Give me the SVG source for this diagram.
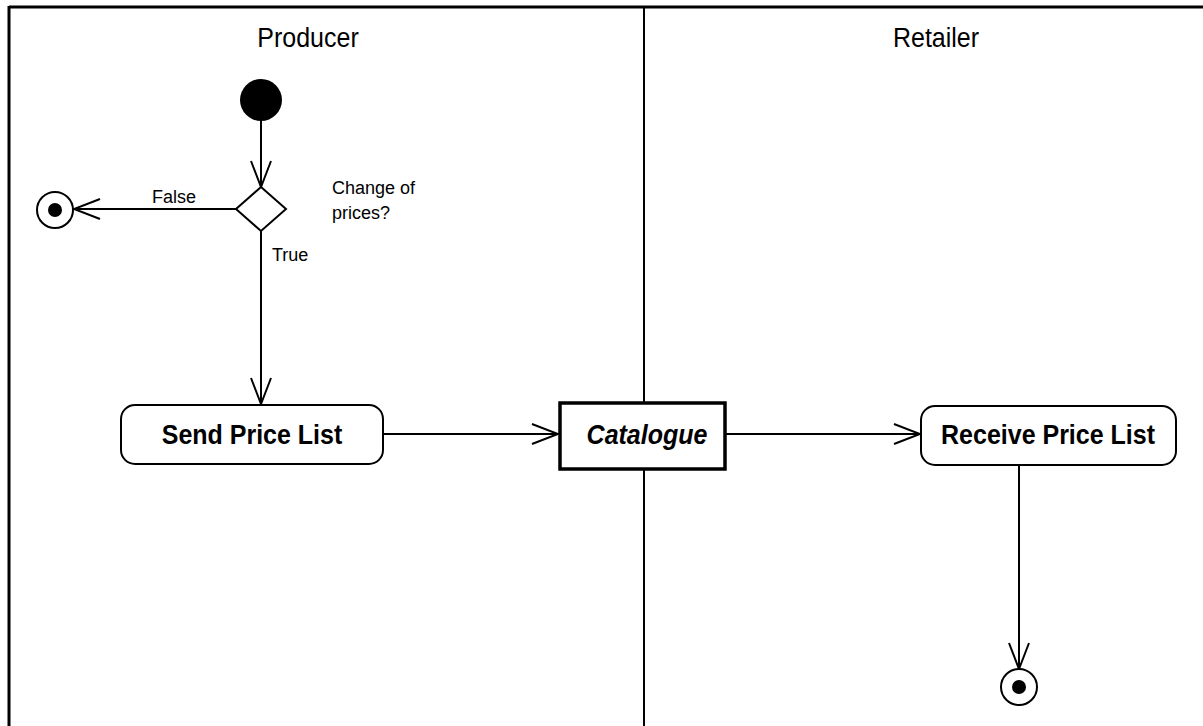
<svg xmlns="http://www.w3.org/2000/svg" width="1203" height="726" viewBox="0 0 1203 726">
<defs>
<style>
.ln{stroke:#000;stroke-width:2;fill:none}
.lbl{font-family:"Liberation Sans",Arial,sans-serif;font-size:18px;fill:#000}
.lane{font-family:"Liberation Sans",Arial,sans-serif;font-size:25px;fill:#000;text-anchor:middle}
.act{fill:#fff;stroke:#000;stroke-width:2}
.actt{font-family:"Liberation Sans",Arial,sans-serif;font-size:25px;font-weight:bold;fill:#000;text-anchor:middle}
</style>
<marker id="arr" viewBox="0 0 30 24" refX="28" refY="12" markerWidth="30" markerHeight="24" markerUnits="userSpaceOnUse" orient="auto">
<path d="M2,2 L28,12 L2,22" fill="none" stroke="#000" stroke-width="2"/>
</marker>
</defs>
<rect width="1203" height="726" fill="#fff"/>
<g id="lanes">
<line x1="9" y1="7" x2="1203" y2="7" stroke="#000" stroke-width="3"/>
<line x1="9" y1="6" x2="9" y2="726" stroke="#000" stroke-width="3"/>
<line x1="644" y1="7" x2="644" y2="726" stroke="#000" stroke-width="2"/>
<text class="lane" transform="translate(308,47) scale(1,1.1)">Producer</text>
<text class="lane" transform="translate(936,47) scale(1,1.1)">Retailer</text>
</g>
<g id="connectors">
<line class="ln" x1="261" y1="121" x2="261" y2="187" marker-end="url(#arr)"/>
<line class="ln" x1="236" y1="209" x2="74" y2="209" marker-end="url(#arr)"/>
<line class="ln" x1="261" y1="231" x2="261" y2="404" marker-end="url(#arr)"/>
<line class="ln" x1="383" y1="434" x2="558" y2="434" marker-end="url(#arr)"/>
<line class="ln" x1="726" y1="434" x2="920" y2="434" marker-end="url(#arr)"/>
<line class="ln" x1="1019" y1="466" x2="1019" y2="669" marker-end="url(#arr)"/>
<text class="lbl" x="152" y="203">False</text>
<text class="lbl" x="272" y="261">True</text>
</g>
<g id="start">
<circle cx="261" cy="100" r="21" fill="#000"/>
</g>
<g id="decision">
<polygon points="261,187 286,209 261,231 236,209" fill="#fff" stroke="#000" stroke-width="2"/>
<text class="lbl" x="332" y="194">Change of</text>
<text class="lbl" x="332" y="219">prices?</text>
</g>
<g id="end1">
<circle cx="55" cy="210" r="18" fill="#fff" stroke="#000" stroke-width="2"/>
<circle cx="55" cy="210" r="7" fill="#000"/>
</g>
<g id="send">
<rect class="act" x="121" y="405" width="262" height="59" rx="14"/>
<text class="actt" transform="translate(252,444) scale(1,1.07)">Send Price List</text>
</g>
<g id="catalogue">
<rect x="560" y="403" width="165" height="66" fill="#fff" stroke="#000" stroke-width="3.5"/>
<text class="actt" transform="translate(647,444) scale(1,1.07)" font-style="italic">Catalogue</text>
</g>
<g id="receive">
<rect class="act" x="921" y="406" width="255" height="59" rx="14"/>
<text class="actt" transform="translate(1048,444) scale(1,1.07)">Receive Price List</text>
</g>
<g id="end2">
<circle cx="1019" cy="687" r="18" fill="#fff" stroke="#000" stroke-width="2"/>
<circle cx="1019" cy="687" r="7" fill="#000"/>
</g>
</svg>
